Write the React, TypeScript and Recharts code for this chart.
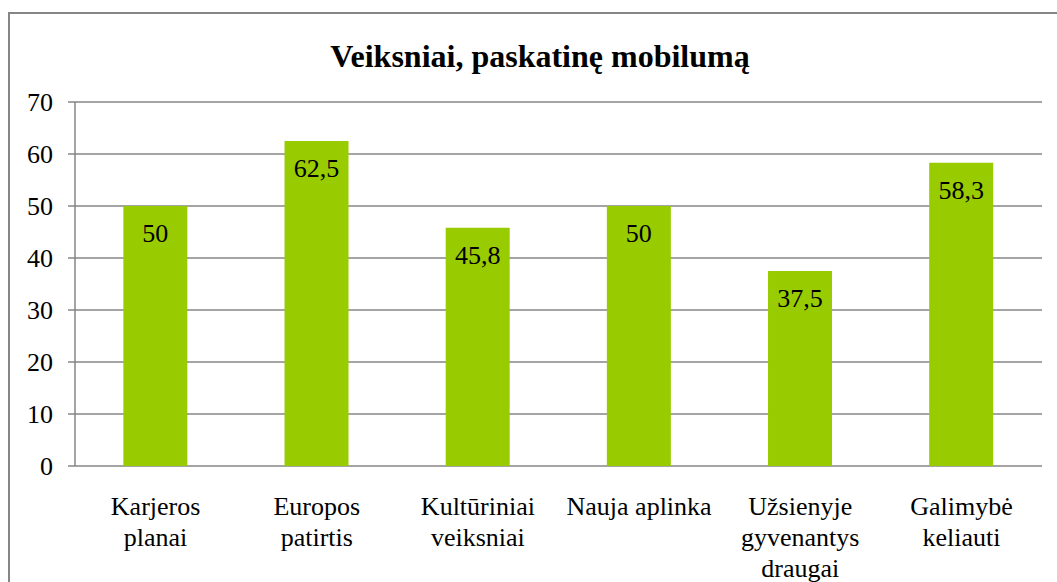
import React from 'react';
import { BarChart, Bar, XAxis, YAxis, CartesianGrid, LabelList } from 'recharts';

const categories: string[] = [
  'Karjeros\nplanai',
  'Europos\npatirtis',
  'Kultūriniai\nveiksniai',
  'Nauja aplinka',
  'Užsienyje\ngyvenantys\ndraugai',
  'Galimybė\nkeliauti',
];
const values: number[] = [50, 62.5, 45.8, 50, 37.5, 58.3];
const yTicks: number[] = [0, 10, 20, 30, 40, 50, 60, 70];
const edgeTicks: number[] = [0, 1, 2, 3, 4, 5, 6];
const title = 'Veiksniai, paskatinę mobilumą';

const data = categories.map((c, i) => ({ name: c, value: values[i] }));

const FONT = "'Liberation Serif', 'Times New Roman', serif";
const GRAY = '#868686';
const textStyle: React.CSSProperties = { fontFamily: FONT, fontSize: 26, fill: '#000' };

const CatTick = (props: any) => {
  const { x, y, payload } = props;
  const lines = String(payload.value).split('\n');
  return (
    <text x={x} y={y} textAnchor="middle" style={textStyle}>
      {lines.map((l, i) => (
        <tspan key={i} x={x} dy={i === 0 ? 41 : 31}>{l}</tspan>
      ))}
    </text>
  );
};

const YTick = (props: any) => {
  const { x, y, payload } = props;
  return (
    <text x={x} y={y} dy={9} textAnchor="end" style={textStyle}>
      {payload.value}
    </text>
  );
};

const ValueLabel = (props: any) => {
  const { x, y, width, value } = props;
  return (
    <text x={x + width / 2} y={y + 36} textAnchor="middle" style={textStyle}>
      {String(value).replace('.', ',')}
    </text>
  );
};

export default function App() {
  return (
    <div style={{ position: 'absolute', left: 0, top: 0, width: 1057, height: 582, overflow: 'hidden', background: '#fff', fontFamily: FONT }}>
      <div style={{ position: 'absolute', left: 8, top: 12, width: 1064, height: 640, border: `2px solid ${GRAY}`, boxSizing: 'border-box' }} />
      <div style={{ position: 'absolute', left: 0, top: 36, width: 1080, textAlign: 'center', fontFamily: FONT, fontWeight: 'bold', fontSize: 32, lineHeight: '40px', color: '#000' }}>
        {title}
      </div>
      <div style={{ position: 'absolute', left: 0, top: 0 }}>
        <BarChart width={1057} height={582} data={data} margin={{ top: 102, right: 15, bottom: 16, left: 0 }} barCategoryGap="30%" style={{ fontFamily: FONT }}>
          <CartesianGrid vertical={false} stroke={GRAY} strokeWidth={1.5} />
          <XAxis xAxisId="edges" type="number" dataKey="value" domain={[0, 6]} ticks={edgeTicks} allowDataOverflow height={0} tick={false} tickSize={7} tickLine={{ stroke: GRAY, strokeWidth: 1.5 }} axisLine={{ stroke: GRAY, strokeWidth: 1.5 }} />
          <XAxis xAxisId="cat" dataKey="name" height={100} tickLine={false} axisLine={false} tick={<CatTick />} interval={0} />
          <YAxis width={75} domain={[0, 70]} ticks={yTicks} interval={0} tickSize={7} tickMargin={15} tickLine={{ stroke: GRAY, strokeWidth: 1.5 }} axisLine={{ stroke: GRAY, strokeWidth: 1.5 }} tick={<YTick />} />
          <Bar xAxisId="cat" dataKey="value" fill="#99CC00" isAnimationActive={false}>
            <LabelList dataKey="value" content={<ValueLabel />} />
          </Bar>
        </BarChart>
      </div>
    </div>
  );
}
